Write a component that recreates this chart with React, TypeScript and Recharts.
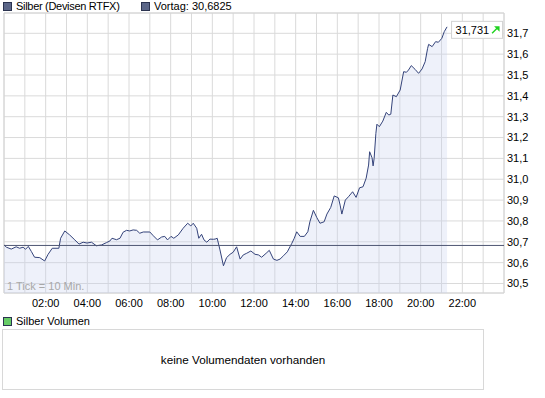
import React from "react";
import { ComposedChart, Area, XAxis, YAxis, CartesianGrid, ReferenceLine, ReferenceArea, ReferenceDot } from "recharts";

// minutes since midnight (1 tick = 10 min)
const minutes = [
	0, 7, 21, 35, 45, 55, 62, 70, 79, 88, 103, 117, 127, 139, 158, 163, 175, 189, 204, 216, 228, 239, 252, 266, 281, 295, 305, 311, 324, 334,
	343, 353, 362, 372, 382, 391, 401, 420, 430, 442, 454, 463, 471, 481, 489, 502, 516, 529, 538, 545, 555, 561, 569, 576, 584, 593, 603, 608,
	614, 622, 632, 641, 651, 660, 670, 680, 689, 699, 711, 723, 733, 742, 755, 764, 776, 786, 795, 805, 816, 829, 836, 843, 853, 865, 875, 881,
	891, 901, 910, 922, 930, 941, 951, 963, 968, 973, 983, 992, 1004, 1014, 1024, 1034, 1043, 1050, 1053, 1060, 1063, 1066, 1071, 1074, 1081,
	1091, 1101, 1108, 1114, 1120, 1130, 1141, 1151, 1159, 1165, 1173, 1184, 1194, 1204, 1213, 1220, 1223, 1233, 1243, 1251, 1261, 1268, 1276,
];

const prices = [
	30.685, 30.674, 30.665, 30.676, 30.669, 30.674, 30.664, 30.678, 30.653, 30.626, 30.624, 30.608, 30.64, 30.669, 30.669, 30.717, 30.752,
	30.733, 30.709, 30.689, 30.698, 30.694, 30.698, 30.681, 30.685, 30.696, 30.704, 30.717, 30.71, 30.717, 30.746, 30.755, 30.752, 30.757,
	30.755, 30.741, 30.747, 30.747, 30.729, 30.709, 30.723, 30.726, 30.709, 30.726, 30.717, 30.733, 30.765, 30.789, 30.776, 30.789, 30.765,
	30.717, 30.736, 30.709, 30.698, 30.713, 30.712, 30.713, 30.717, 30.661, 30.585, 30.624, 30.64, 30.65, 30.676, 30.617, 30.637, 30.645,
	30.656, 30.64, 30.637, 30.626, 30.645, 30.659, 30.617, 30.611, 30.617, 30.633, 30.652, 30.693, 30.717, 30.748, 30.726, 30.726, 30.748,
	30.796, 30.851, 30.816, 30.789, 30.796, 30.833, 30.865, 30.92, 30.911, 30.876, 30.833, 30.9, 30.916, 30.94, 30.913, 30.959, 30.964,
	31.005, 31.068, 31.132, 31.103, 31.064, 31.1, 31.22, 31.264, 31.252, 31.279, 31.321, 31.308, 31.312, 31.404, 31.396, 31.428, 31.516,
	31.513, 31.524, 31.545, 31.527, 31.508, 31.529, 31.564, 31.628, 31.647, 31.636, 31.66, 31.657, 31.676, 31.708, 31.731,
];

const prevClose = 30.6825;
const priceTicks = [30.5, 30.6, 30.7, 30.8, 30.9, 31.0, 31.1, 31.2, 31.3, 31.4, 31.5, 31.6, 31.7];
const hourTicks = [0, 60, 120, 180, 240, 300, 360, 420, 480, 540, 600, 660, 720, 780, 840, 900, 960, 1020, 1080, 1140, 1200, 1260, 1320, 1380, 1440];
const yMin = 30.4544;
const yMax = 31.7974;

const data = minutes.map((m, i) => ({ t: m, price: prices[i] }));
const last = data[data.length - 1];

const font = "'Liberation Sans', Arial, sans-serif";
const fmtPrice = (v: number, d = 1) => v.toFixed(d).replace(".", ",");
const fmtHour = (v: number) => {
	const h = v / 60;
	if (h % 2 !== 0 || h === 0 || h === 24) return "";
	return (h < 10 ? "0" : "") + h + ":00";
};

const PriceTag = (props: any) => {
	const { cx, cy } = props;
	return (
		<g>
			<rect x={cx + 4.5} y={cy - 5.5} width={51} height={17} fill='#fff' stroke='#d2d2d2' />
			<text x={cx + 8.5} y={cy + 6.7} fontSize={11} fontFamily={font} fill='#000'>
				{fmtPrice(last.price, 3)}
			</text>
			<line x1={cx + 45} y1={cy + 6.5} x2={cx + 50.5} y2={cy + 1} stroke='#1fd21f' strokeWidth={1.4} />
			<polygon points={`${cx + 52.5},${cy - 0.5} ${cx + 47},${cy - 0.5} ${cx + 52.5},${cy + 5}`} fill='#1fd21f' />
		</g>
	);
};

const Swatch = ({ color }: { color: string }) => (
	<span style={{ display: "inline-block", width: 7, height: 7, background: color, border: "1px solid #2b3350", marginRight: 4, verticalAlign: "-1px" }} />
);

export default function App() {
	return (
		<div style={{ position: "absolute", left: 0, top: 0, width: 545, height: 398, background: "#fff", fontFamily: font, fontSize: 11, color: "#000" }}>
			<div style={{ position: "absolute", left: 3, top: 0, lineHeight: "13px", whiteSpace: "nowrap", letterSpacing: "-0.3px" }}>
				<Swatch color='#5b6688' />
				Silber (Devisen RTFX)
			</div>
			<div style={{ position: "absolute", left: 141, top: 0, lineHeight: "13px", whiteSpace: "nowrap" }}>
				<Swatch color='#5b6688' />
				Vortag: {fmtPrice(prevClose, 4)}
			</div>

			<div style={{ position: "absolute", left: 0, top: 0 }}>
				<ComposedChart width={545} height={310} data={data} margin={{ top: 13, right: 0, bottom: 0, left: 4 }}>
					<CartesianGrid stroke='#dadada' />
					<XAxis
						dataKey='t'
						type='number'
						domain={[0, 1440]}
						ticks={hourTicks}
						allowDataOverflow
						tickFormatter={fmtHour}
						axisLine={false}
						tickLine={false}
						tickSize={4}
						tickMargin={2}
						height={17}
						interval={0}
						tick={{ fill: "#000", fontSize: 11, fontFamily: font }}
					/>
					<YAxis
						orientation='right'
						type='number'
						domain={[yMin, yMax]}
						ticks={priceTicks}
						allowDataOverflow
						tickFormatter={(v: number) => fmtPrice(v)}
						axisLine={false}
						tickLine={false}
						tickSize={1}
						tickMargin={2}
						width={41}
						interval={0}
						tick={{ fill: "#000", fontSize: 11, fontFamily: font }}
					/>
					<ReferenceArea x1={0} x2={1440} y1={yMin} y2={yMax} fill='none' stroke='#d4d4d4' />
					<Area
						type='linear'
						dataKey='price'
						stroke='#34437a'
						strokeWidth={1}
						fill='#c6d0ee'
						fillOpacity={0.3}
						baseValue={yMin}
						isAnimationActive={false}
						dot={false}
						activeDot={false}
					/>
					<ReferenceLine y={prevClose} stroke='#4e5672' strokeWidth={1} />
					<ReferenceDot x={last.t} y={last.price} r={0} shape={PriceTag} />
				</ComposedChart>
			</div>

			<div style={{ position: "absolute", left: 7, top: 280, lineHeight: "13px", color: "#a8a8a8", whiteSpace: "nowrap" }}>1 Tick = 10 Min.</div>

			<div style={{ position: "absolute", left: 3, top: 314.5, lineHeight: "13px", whiteSpace: "nowrap" }}>
				<Swatch color='#66cc66' />
				Silber Volumen
			</div>
			<div
				style={{
					position: "absolute",
					left: 2,
					top: 329,
					width: 480,
					height: 59,
					border: "1px solid #d8d8d8",
					display: "flex",
					alignItems: "center",
					justifyContent: "center",
					fontSize: 11.7,
				}}
			>
				keine Volumendaten vorhanden
			</div>
		</div>
	);
}
